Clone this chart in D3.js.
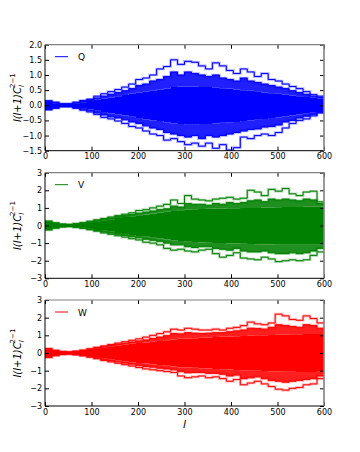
<!DOCTYPE html>
<html>
<head>
<meta charset="utf-8">
<script src="https://cdn.jsdelivr.net/npm/d3@7"></script>
<style>
  body { margin: 0; background: #fff; }
  svg text { font-family: "DejaVu Sans", sans-serif; }
</style>
</head>
<body>
<div id="chart"></div>
<script>
// bin left edges in l (each bin 15 wide, last one ends at 600)
const lBins = [0,15,30,45,60,75,90,105,120,135,150,165,180,195,210,225,240,255,270,285,
               300,315,330,345,360,375,390,405,420,435,450,465,480,495,510,525,540,555,570,585];
const lMax = 600;
const xTicks = [0,100,200,300,400,500,600];

// Q panel (blue)
const qCoreHi = [0.12,0.06,0.03,0.03,0.06,0.1,0.14,0.18,0.22,0.26,0.3,0.34,0.38,0.42,0.45,0.48,0.52,0.55,0.6,0.62,0.62,0.62,0.6,0.6,0.58,0.56,0.55,0.52,0.5,0.48,0.46,0.42,0.4,0.38,0.35,0.32,0.3,0.27,0.25,0.22];
const qCoreLo = [-0.12,-0.06,-0.03,-0.03,-0.06,-0.1,-0.14,-0.18,-0.22,-0.27,-0.3,-0.34,-0.38,-0.42,-0.46,-0.5,-0.52,-0.56,-0.6,-0.62,-0.64,-0.64,-0.62,-0.62,-0.6,-0.58,-0.56,-0.55,-0.52,-0.5,-0.48,-0.45,-0.42,-0.4,-0.36,-0.34,-0.3,-0.28,-0.25,-0.22];
const qMidHi  = [0.13,0.08,0.04,0.04,0.08,0.13,0.18,0.24,0.3,0.36,0.42,0.48,0.55,0.65,0.7,0.8,0.85,0.95,1.1,1.0,1.1,1.05,1.0,0.95,1.0,0.9,0.85,0.8,0.9,0.8,0.75,0.7,0.65,0.6,0.55,0.48,0.42,0.36,0.3,0.26];
const qMidLo  = [-0.13,-0.08,-0.04,-0.04,-0.08,-0.13,-0.18,-0.25,-0.32,-0.38,-0.42,-0.48,-0.55,-0.6,-0.68,-0.75,-0.8,-0.9,-0.95,-1.0,-1.05,-1.0,-1.1,-1.0,-1.05,-1.0,-0.95,-0.9,-0.85,-0.8,-0.78,-0.72,-0.7,-0.65,-0.55,-0.5,-0.42,-0.36,-0.3,-0.24];
const qOutHi  = [0.15,0.1,0.05,0.05,0.1,0.16,0.2,0.3,0.38,0.45,0.52,0.6,0.7,0.85,0.9,1.0,1.2,1.28,1.5,1.35,1.45,1.42,1.3,1.2,1.4,1.3,1.15,1.05,1.2,1.1,0.95,1.05,0.85,0.8,0.7,0.62,0.55,0.45,0.35,0.3];
const qOutLo  = [-0.15,-0.1,-0.05,-0.05,-0.1,-0.16,-0.22,-0.3,-0.4,-0.45,-0.52,-0.6,-0.7,-0.75,-0.85,-0.95,-1.0,-1.15,-1.1,-1.2,-1.3,-1.25,-1.35,-1.25,-1.42,-1.3,-1.48,-1.4,-1.05,-1.1,-1.0,-0.95,-1.0,-0.9,-0.75,-0.6,-0.5,-0.45,-0.35,-0.25];
const qTicks = [-1.5,-1.0,-0.5,0.0,0.5,1.0,1.5,2.0];

// V panel (green)
const vCoreHi = [0.2,0.12,0.06,0.05,0.08,0.12,0.18,0.24,0.3,0.36,0.42,0.48,0.52,0.58,0.62,0.68,0.72,0.78,0.82,0.86,0.9,0.92,0.94,0.95,0.96,0.97,0.98,0.98,1.0,1.0,1.0,1.02,1.02,1.04,1.05,1.05,1.05,1.06,1.06,1.06];
const vCoreLo = [-0.2,-0.12,-0.06,-0.05,-0.08,-0.12,-0.18,-0.25,-0.3,-0.36,-0.42,-0.48,-0.54,-0.6,-0.64,-0.7,-0.74,-0.8,-0.84,-0.88,-0.92,-0.94,-0.96,-0.98,-1.0,-1.0,-1.02,-1.02,-1.04,-1.05,-1.06,-1.08,-1.08,-1.1,-1.1,-1.1,-1.1,-1.1,-1.1,-1.1];
const vMidHi  = [0.22,0.13,0.07,0.05,0.09,0.14,0.2,0.28,0.35,0.42,0.5,0.56,0.62,0.7,0.76,0.82,0.9,0.95,1.1,1.05,1.25,1.2,1.2,1.15,1.25,1.2,1.3,1.25,1.3,1.4,1.45,1.35,1.5,1.45,1.5,1.45,1.4,1.5,1.45,1.25];
const vMidLo  = [-0.22,-0.13,-0.07,-0.05,-0.09,-0.14,-0.2,-0.28,-0.36,-0.43,-0.5,-0.57,-0.64,-0.7,-0.78,-0.84,-0.9,-1.0,-1.1,-1.1,-1.2,-1.25,-1.2,-1.2,-1.3,-1.35,-1.4,-1.3,-1.45,-1.5,-1.5,-1.45,-1.55,-1.6,-1.6,-1.55,-1.6,-1.55,-1.45,-1.3];
const vOutHi  = [0.25,0.15,0.08,0.06,0.1,0.16,0.24,0.32,0.4,0.48,0.56,0.64,0.72,0.85,0.9,1.0,1.1,1.2,1.45,1.25,1.7,1.5,1.45,1.4,1.5,1.55,1.6,1.5,1.55,2.0,1.9,1.7,2.05,1.95,2.1,1.8,1.7,1.9,1.95,1.35];
const vOutLo  = [-0.25,-0.15,-0.08,-0.06,-0.1,-0.16,-0.24,-0.32,-0.42,-0.5,-0.58,-0.66,-0.75,-0.82,-0.95,-1.0,-1.1,-1.3,-1.4,-1.35,-1.45,-1.5,-1.4,-1.35,-1.6,-1.8,-1.7,-1.55,-1.85,-1.9,-1.95,-1.8,-1.9,-2.05,-2.0,-1.95,-2.0,-1.95,-1.7,-1.5];
const vTicks = [-3,-2,-1,0,1,2,3];

// W panel (red)
const wCoreHi = [0.2,0.12,0.06,0.05,0.08,0.12,0.18,0.25,0.3,0.36,0.42,0.47,0.52,0.56,0.6,0.64,0.68,0.72,0.76,0.8,0.82,0.84,0.86,0.88,0.9,0.92,0.94,0.95,0.96,0.98,1.0,1.0,1.02,1.04,1.05,1.06,1.06,1.08,1.08,1.08];
const wCoreLo = [-0.2,-0.12,-0.06,-0.05,-0.08,-0.12,-0.18,-0.25,-0.3,-0.36,-0.42,-0.47,-0.52,-0.56,-0.6,-0.64,-0.68,-0.72,-0.76,-0.8,-0.82,-0.84,-0.86,-0.88,-0.9,-0.92,-0.94,-0.96,-0.98,-1.0,-1.0,-1.02,-1.04,-1.05,-1.06,-1.06,-1.08,-1.08,-1.08,-1.06];
const wMidHi  = [0.22,0.13,0.07,0.05,0.09,0.14,0.2,0.28,0.35,0.42,0.49,0.55,0.62,0.68,0.74,0.82,0.9,0.98,1.1,1.08,1.15,1.12,1.1,1.12,1.15,1.15,1.2,1.25,1.3,1.4,1.38,1.35,1.45,1.6,1.55,1.5,1.45,1.6,1.55,1.4];
const wMidLo  = [-0.22,-0.13,-0.07,-0.05,-0.09,-0.14,-0.2,-0.28,-0.36,-0.43,-0.5,-0.57,-0.63,-0.7,-0.76,-0.8,-0.86,-0.9,-0.95,-1.05,-1.12,-1.1,-1.1,-1.15,-1.15,-1.2,-1.3,-1.25,-1.45,-1.4,-1.35,-1.45,-1.55,-1.6,-1.65,-1.6,-1.55,-1.5,-1.45,-1.3];
const wOutHi  = [0.25,0.15,0.08,0.06,0.1,0.16,0.24,0.32,0.4,0.48,0.56,0.64,0.72,0.8,0.9,1.0,1.1,1.2,1.35,1.3,1.4,1.35,1.3,1.3,1.35,1.3,1.4,1.45,1.55,1.75,1.65,1.6,1.7,2.2,2.1,1.9,1.85,2.1,1.95,1.7];
const wOutLo  = [-0.25,-0.15,-0.08,-0.06,-0.1,-0.16,-0.24,-0.32,-0.42,-0.5,-0.58,-0.66,-0.74,-0.82,-0.9,-0.95,-1.0,-1.05,-1.1,-1.3,-1.4,-1.35,-1.3,-1.4,-1.35,-1.45,-1.6,-1.5,-1.8,-1.7,-1.6,-1.75,-1.9,-2.05,-2.1,-2.0,-1.95,-1.8,-1.75,-1.45];
const wTicks = [-3,-2,-1,0,1,2,3];

const W = 360, H = 452;
const left = 45, right = 324;

const panels = [
  {name: "Q", color: "#0000ff", top: 44.7, bottom: 150.7, ticks: qTicks, fmt: d3.format(".1f"),
   coreHi: qCoreHi, coreLo: qCoreLo, midHi: qMidHi, midLo: qMidLo, outHi: qOutHi, outLo: qOutLo},
  {name: "V", color: "#008000", top: 172.7, bottom: 278.3, ticks: vTicks, fmt: d3.format("d"),
   coreHi: vCoreHi, coreLo: vCoreLo, midHi: vMidHi, midLo: vMidLo, outHi: vOutHi, outLo: vOutLo},
  {name: "W", color: "#ff0000", top: 300, bottom: 406, ticks: wTicks, fmt: d3.format("d"),
   coreHi: wCoreHi, coreLo: wCoreLo, midHi: wMidHi, midLo: wMidLo, outHi: wOutHi, outLo: wOutLo}
];

const svg = d3.select("#chart").append("svg")
    .attr("width", W)
    .attr("height", H);

const x = d3.scaleLinear().domain([0, lMax]).range([left, right]);

// step rows: one point per bin edge, plus the closing edge at lMax
function rows(hi, lo) {
  const r = lBins.map((l, i) => ({l: l, hi: hi[i], lo: lo ? lo[i] : 0}));
  r.push({l: lMax, hi: hi[hi.length - 1], lo: lo ? lo[lo.length - 1] : 0});
  return r;
}

panels.forEach((p, k) => {
  const y = d3.scaleLinear().domain([p.ticks[0], p.ticks[p.ticks.length - 1]]).range([p.bottom, p.top]);
  const g = svg.append("g");

  g.append("clipPath").attr("id", "clip" + k)
    .append("rect")
      .attr("x", left).attr("y", p.top)
      .attr("width", right - left).attr("height", p.bottom - p.top);

  const plot = g.append("g").attr("clip-path", "url(#clip" + k + ")");

  const area = d3.area()
      .curve(d3.curveStepAfter)
      .x(d => x(d.l))
      .y0(d => y(d.lo))
      .y1(d => y(d.hi));
  const line = d3.line()
      .curve(d3.curveStepAfter)
      .x(d => x(d.l))
      .y(d => y(d.hi));

  // band of overlapping curves between mid and core
  plot.append("path").datum(rows(p.midHi, p.coreHi))
      .attr("d", area).attr("fill", p.color).attr("opacity", 0.88);
  plot.append("path").datum(rows(p.coreLo, p.midLo))
      .attr("d", area).attr("fill", p.color).attr("opacity", 0.88);

  // solid core
  plot.append("path").datum(rows(p.coreHi, p.coreLo))
      .attr("d", area).attr("fill", p.color);

  // outlying step curves (halo + line)
  [p.outHi, p.outLo, p.midHi, p.midLo].forEach(s => {
    plot.append("path").datum(rows(s))
        .attr("d", line).attr("fill", "none")
        .attr("stroke", p.color).attr("stroke-width", 2.6).attr("opacity", 0.3);
    plot.append("path").datum(rows(s))
        .attr("d", line).attr("fill", "none")
        .attr("stroke", p.color).attr("stroke-width", 1);
  });

  // axes, ticks pointing inward
  g.append("g")
      .attr("transform", `translate(0,${p.bottom})`)
      .call(d3.axisBottom(x).tickValues(xTicks).tickSize(-4).tickPadding(3))
      .call(a => a.select(".domain").remove())
      .selectAll("text").attr("font-size", 8).attr("fill", "#000");
  g.append("g")
      .attr("transform", `translate(${left},0)`)
      .call(d3.axisLeft(y).tickValues(p.ticks).tickFormat(p.fmt).tickSize(-4).tickPadding(3))
      .call(a => a.select(".domain").remove())
      .selectAll("text").attr("font-size", 8).attr("fill", "#000");
  g.append("g")
      .attr("transform", `translate(0,${p.top})`)
      .call(d3.axisTop(x).tickValues(xTicks).tickSize(-4).tickFormat(""))
      .call(a => a.select(".domain").remove());
  g.append("g")
      .attr("transform", `translate(${right},0)`)
      .call(d3.axisRight(y).tickValues(p.ticks).tickSize(-4).tickFormat(""))
      .call(a => a.select(".domain").remove());

  // frame
  g.append("line").attr("x1", left).attr("x2", left).attr("y1", p.top).attr("y2", p.bottom)
      .attr("stroke", "#000");
  g.append("line").attr("x1", left).attr("x2", right).attr("y1", p.bottom).attr("y2", p.bottom)
      .attr("stroke", "#000");
  g.append("line").attr("x1", left).attr("x2", right).attr("y1", p.top).attr("y2", p.top)
      .attr("stroke", "#808080").attr("stroke-width", 1.2);
  g.append("line").attr("x1", right).attr("x2", right).attr("y1", p.top).attr("y2", p.bottom)
      .attr("stroke", "#808080").attr("stroke-width", 1.6);

  // legend
  const ly = p.top + 12;
  g.append("line").attr("x1", left + 10).attr("x2", left + 23).attr("y1", ly).attr("y2", ly)
      .attr("stroke", p.color).attr("stroke-width", 1);
  g.append("text").attr("x", left + 33).attr("y", ly + 3.5)
      .attr("font-size", 9).text(p.name);

  // y label
  const cy = (p.top + p.bottom) / 2;
  const lab = g.append("text")
      .attr("transform", `translate(21,${cy}) rotate(-90)`)
      .attr("text-anchor", "middle")
      .attr("font-size", 10)
      .attr("font-family", "DejaVu Serif, serif")
      .attr("font-style", "italic");
  lab.append("tspan").text("l(l+1)C");
  lab.append("tspan").attr("dy", 3).attr("font-size", 7).text("l");
  lab.append("tspan").attr("dx", -3).attr("dy", -9).attr("font-size", 7).attr("font-style", "normal").text("2−1");
});

// x label
svg.append("text")
    .attr("x", (left + right) / 2).attr("y", 428)
    .attr("text-anchor", "middle")
    .attr("font-size", 11)
    .attr("font-family", "DejaVu Serif, serif")
    .attr("font-style", "italic")
    .text("l");
</script>
</body>
</html>
